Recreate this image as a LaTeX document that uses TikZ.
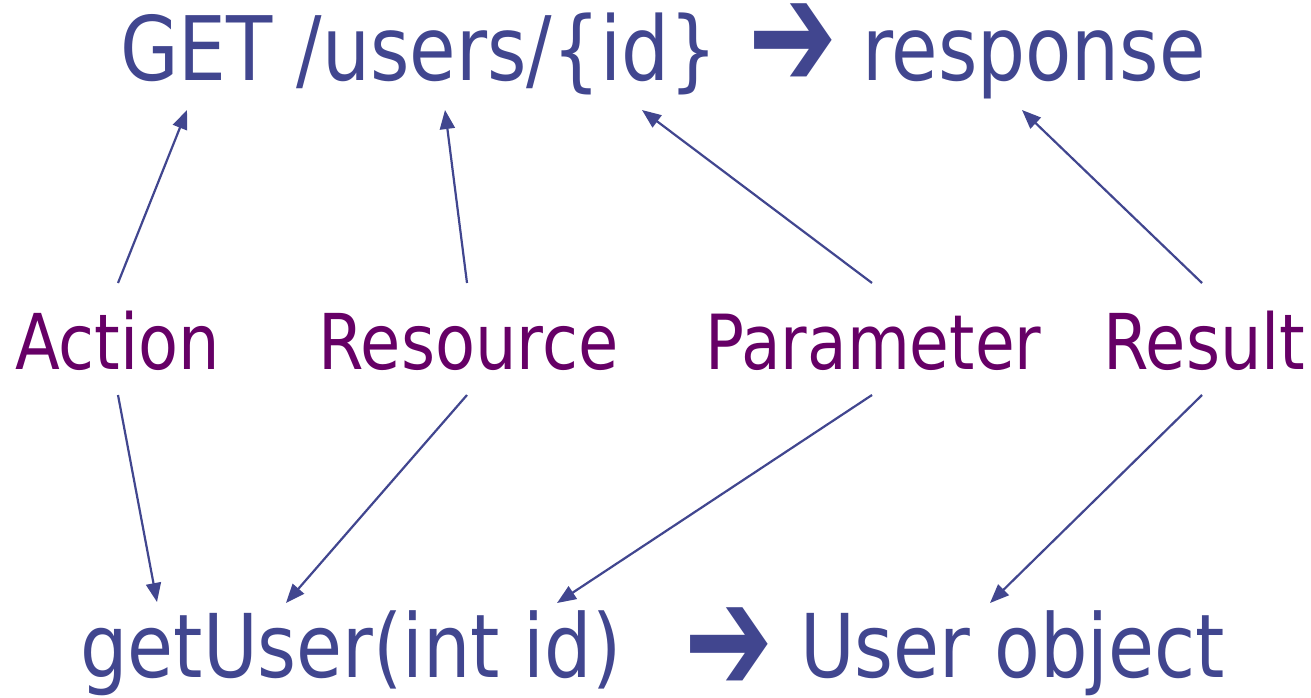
\documentclass[tikz,border=0pt]{standalone}
\usepackage{fontspec}
\setmainfont{DejaVu Sans}[FakeStretch=0.85]
\newfontfamily\arrowfont{DejaVu Sans}
\usetikzlibrary{arrows.meta}
\definecolor{navy}{HTML}{41468F}
\definecolor{plum}{HTML}{660066}
\tikzset{
  bigtext/.style={text=navy, inner sep=0pt, anchor=base west, font=\fontsize{89}{89}\selectfont},
  lowtext/.style={text=navy, inner sep=0pt, anchor=base west, font=\fontsize{88}{88}\selectfont},
  label/.style={text=plum, inner sep=0pt, anchor=base west, font=\fontsize{77}{77}\selectfont},
  glyph/.style={text=navy, inner sep=0pt, anchor=west, font=\arrowfont\fontsize{106}{106}\selectfont},
  link/.style={draw=navy, line width=2.2pt, -{Triangle[length=19pt,width=15pt]}}
}
\begin{document}
\begin{tikzpicture}[x=1pt,y=-1pt]
\useasboundingbox (0,0) rectangle (1311,697);
% top line
\node[bigtext] (get) at (120,80) {GET /users/\{id\}};
\node[glyph] (arr1) at (748,46) {\scalebox{1}[1.45]{➔}};
\node[bigtext] (resp) at (862,80) {response};
% labels
\node[label] (act) at (15,369) {Action};
\node[label] (res) at (318,369) {Resource};
\node[label] (par) at (705,369) {\fontsize{76}{76}\selectfont Parameter};
\node[label] (rsl) at (1103,369) {Result};
% bottom line
\node[lowtext] (getu) at (80,677) {getUser(int id)};
\node[glyph] (arr2) at (684,650) {\scalebox{1}[1.45]{➔}};
\node[lowtext] (uobj) at (800,677) {User object};
% endpoints
\coordinate (a1s) at (118,283); \coordinate (a1e) at (187,110);
\coordinate (a2s) at (467,283); \coordinate (a2e) at (445,110);
\coordinate (a3s) at (872,283); \coordinate (a3e) at (642,110);
\coordinate (a4s) at (1202,283); \coordinate (a4e) at (1022,110);
\coordinate (b1s) at (118,395); \coordinate (b1e) at (157,602);
\coordinate (b2s) at (467,395); \coordinate (b2e) at (286,603);
\coordinate (b3s) at (872,395); \coordinate (b3e) at (557,603);
\coordinate (b4s) at (1202,395); \coordinate (b4e) at (990,603);
\draw[link] (a1s) -- (a1e);
\draw[link] (a2s) -- (a2e);
\draw[link] (a3s) -- (a3e);
\draw[link] (a4s) -- (a4e);
\draw[link] (b1s) -- (b1e);
\draw[link] (b2s) -- (b2e);
\draw[link] (b3s) -- (b3e);
\draw[link] (b4s) -- (b4e);
\end{tikzpicture}
\end{document}
